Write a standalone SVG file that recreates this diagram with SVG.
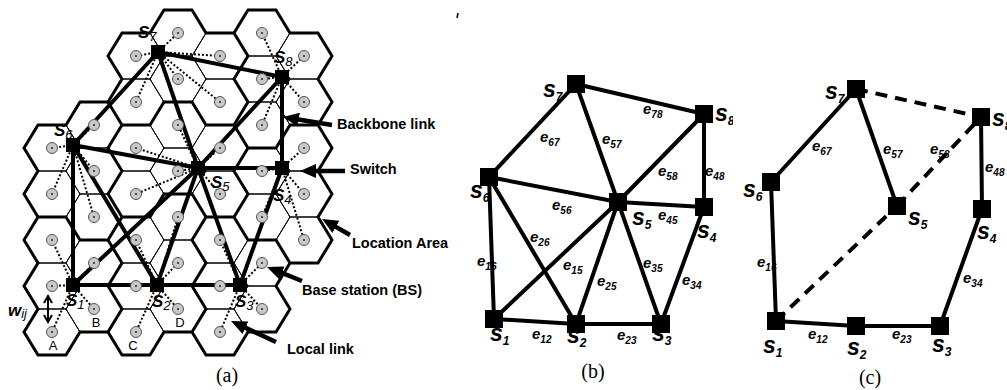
<svg xmlns="http://www.w3.org/2000/svg" width="1007" height="390" viewBox="0 0 1007 390">
  <defs>
    <style>
      .hex { fill: none; stroke: #000; stroke-width: 1; }
      .la { fill: none; stroke: #000; stroke-width: 3; stroke-linecap: round; }
      .local { fill: none; stroke: #000; stroke-width: 2; stroke-dasharray: 2 2; }
      .bb { stroke: #000; stroke-width: 4; stroke-linecap: round; }
      .sw { fill: #000; }
      .edge { stroke: #000; stroke-width: 4; stroke-linecap: round; }
      .dash { stroke: #000; stroke-width: 4; stroke-dasharray: 12 8; }
      .node { fill: #000; }
      .bs { fill: #c8c8c8; stroke: #555; stroke-width: 1; }
      .bsc { fill: #222; }
      .callout { stroke: #000; stroke-width: 4.5; fill: none; }
      .sa { font-family: "Liberation Sans", Arial, sans-serif; font-size: 17px; font-weight: bold; font-style: italic; }
      .sa-sub { font-size: 13px; font-weight: normal; }
      .sn { font-family: "Liberation Sans", Arial, sans-serif; font-size: 23px; font-weight: bold; font-style: italic; }
      .sn-sub { font-size: 12px; }
      .e { font-family: "Liberation Sans", Arial, sans-serif; font-size: 15px; font-weight: bold; font-style: italic; }
      .e-sub { font-size: 10px; }
      .note { font-family: "Liberation Sans", Arial, sans-serif; font-size: 14.5px; font-weight: bold; }
      .cell { font-family: "Liberation Sans", Arial, sans-serif; font-size: 13px; text-anchor: middle; }
      .cap { font-family: "Liberation Serif", "Times New Roman", serif; font-size: 20px; text-anchor: middle; }
    </style>
    <polygon id="hx" points="-28,0 -14,-23 14,-23 28,0 14,23 -14,23"/>
    <g id="bsdot">
      <circle class="bs" r="5.5"/>
      <circle class="bsc" r="1"/>
    </g>
    <marker id="head" markerUnits="userSpaceOnUse" markerWidth="16" markerHeight="14" refX="2" refY="7" orient="auto">
      <path d="M0,0 L16,7 L0,14 z" fill="#000"/>
    </marker>
    <clipPath id="clipB">
      <rect x="440" y="0" width="293" height="390"/>
    </clipPath>
  </defs>

  <rect width="1007" height="390" fill="#fff"/>

  <!-- ===================== (a) cellular layout ===================== -->
  <g id="cells" class="hex">
    <use href="#hx" x="52" y="148"/><use href="#hx" x="52" y="194"/><use href="#hx" x="52" y="240"/><use href="#hx" x="52" y="286"/><use href="#hx" x="52" y="332"/>
    <use href="#hx" x="94" y="125"/><use href="#hx" x="94" y="171"/><use href="#hx" x="94" y="217"/><use href="#hx" x="94" y="263"/><use href="#hx" x="94" y="309"/>
    <use href="#hx" x="136" y="56"/><use href="#hx" x="136" y="102"/><use href="#hx" x="136" y="148"/><use href="#hx" x="136" y="194"/><use href="#hx" x="136" y="240"/><use href="#hx" x="136" y="286"/><use href="#hx" x="136" y="332"/>
    <use href="#hx" x="178" y="33"/><use href="#hx" x="178" y="79"/><use href="#hx" x="178" y="125"/><use href="#hx" x="178" y="171"/><use href="#hx" x="178" y="217"/><use href="#hx" x="178" y="263"/><use href="#hx" x="178" y="309"/>
    <use href="#hx" x="220" y="56"/><use href="#hx" x="220" y="102"/><use href="#hx" x="220" y="148"/><use href="#hx" x="220" y="194"/><use href="#hx" x="220" y="240"/><use href="#hx" x="220" y="286"/><use href="#hx" x="220" y="332"/>
    <use href="#hx" x="262" y="33"/><use href="#hx" x="262" y="79"/><use href="#hx" x="262" y="125"/><use href="#hx" x="262" y="171"/><use href="#hx" x="262" y="217"/><use href="#hx" x="262" y="263"/><use href="#hx" x="262" y="309"/>
    <use href="#hx" x="304" y="56"/><use href="#hx" x="304" y="102"/><use href="#hx" x="304" y="148"/><use href="#hx" x="304" y="194"/><use href="#hx" x="304" y="240"/>
  </g>

  <!-- location area borders -->
  <path id="location-areas" class="la" d="
    M38,125 L66,125 M24,148 L38,125 M24,148 L38,171
    M24,194 L38,171 M24,194 L38,217
    M38,217 L66,217 M66,217 L80,240 M24,240 L38,217 M24,240 L38,263
    M24,286 L38,263 M24,286 L38,309
    M38,355 L66,355 M80,332 L66,355 M24,332 L38,309 M24,332 L38,355
    M80,102 L108,102 M108,102 L122,125 M122,125 L108,148 M66,125 L80,102
    M108,148 L122,171 M122,171 L108,194
    M108,194 L122,217 M122,217 L108,240
    M80,240 L108,240 M108,240 L122,263 M122,263 L108,286
    M80,332 L108,332 M108,286 L122,309 M122,309 L108,332
    M122,33 L150,33 M108,56 L122,33 M108,56 L122,79
    M164,102 L150,125 M108,102 L122,79
    M122,125 L150,125
    M164,194 L150,217
    M122,217 L150,217
    M122,355 L150,355 M164,332 L150,355 M108,332 L122,355
    M164,10 L192,10 M150,33 L164,10 M192,10 L206,33
    M164,102 L192,102 M192,102 L206,125
    M164,194 L192,194 M192,194 L206,217 M206,217 L192,240
    M192,240 L206,263 M206,263 L192,286
    M164,332 L192,332 M192,286 L206,309 M206,309 L192,332
    M206,33 L234,33 M234,33 L248,56 M248,56 L234,79
    M234,79 L248,102 M248,102 L234,125
    M206,125 L234,125 M234,125 L248,148 M248,148 L234,171
    M234,171 L248,194 M248,194 L234,217
    M206,217 L234,217 M234,217 L248,240
    M206,355 L234,355 M248,332 L234,355 M192,332 L206,355
    M248,10 L276,10 M234,33 L248,10 M276,10 L290,33
    M290,125 L276,148
    M248,148 L276,148
    M248,240 L276,240 M276,240 L290,263 M290,263 L276,286
    M248,332 L276,332 M276,286 L290,309 M290,309 L276,332
    M290,33 L318,33 M318,33 L332,56 M332,56 L318,79
    M318,79 L332,102 M332,102 L318,125
    M290,125 L318,125 M318,125 L332,148 M332,148 L318,171
    M318,171 L332,194 M332,194 L318,217
    M290,263 L318,263 M318,217 L332,240 M332,240 L318,263"/>

  <!-- local links: switch to its base stations -->
  <g id="local-links" class="local">
    <path d="M158,52 L136,56 M158,52 L136,102 M158,52 L178,33 M158,52 L178,79 M158,52 L220,56 M158,52 L220,102"/>
    <path d="M282,77 L262,33 M282,77 L262,79 M282,77 L262,125 M282,77 L304,56 M282,77 L304,102"/>
    <path d="M73,145 L52,148 M73,145 L52,194 M73,145 L94,125 M73,145 L94,171 M73,145 L94,217"/>
    <path d="M198,168 L136,148 M198,168 L136,194 M198,168 L178,125 M198,168 L178,171 M198,168 L220,148 M198,168 L220,194"/>
    <path d="M73,285 L52,240 M73,285 L52,286 M73,285 L52,332 M73,285 L94,263 M73,285 L94,309"/>
    <path d="M157,285 L136,240 M157,285 L136,286 M157,285 L136,332 M157,285 L178,217 M157,285 L178,263 M157,285 L178,309"/>
    <path d="M240,285 L220,240 M240,285 L220,286 M240,285 L220,332 M240,285 L262,263 M240,285 L262,309"/>
    <path d="M282,168 L262,171 M282,168 L262,217 M282,168 L304,148 M282,168 L304,194 M282,168 L304,240"/>
  </g>

  <!-- backbone links between switches -->
  <g id="backbone-links" class="bb">
    <line x1="158" y1="52" x2="282" y2="77"/>
    <line x1="158" y1="52" x2="73" y2="145"/>
    <line x1="158" y1="52" x2="198" y2="168"/>
    <line x1="282" y1="77" x2="198" y2="168"/>
    <line x1="282" y1="77" x2="282" y2="168"/>
    <line x1="73" y1="145" x2="198" y2="168"/>
    <line x1="73" y1="145" x2="73" y2="285"/>
    <line x1="73" y1="145" x2="157" y2="285"/>
    <line x1="198" y1="168" x2="282" y2="168"/>
    <line x1="198" y1="168" x2="73" y2="285"/>
    <line x1="198" y1="168" x2="157" y2="285"/>
    <line x1="198" y1="168" x2="240" y2="285"/>
    <line x1="282" y1="168" x2="240" y2="285"/>
    <line x1="73" y1="285" x2="157" y2="285"/>
    <line x1="157" y1="285" x2="240" y2="285"/>
  </g>

  <!-- base stations -->
  <g id="base-stations">
    <use href="#bsdot" x="52" y="148"/><use href="#bsdot" x="52" y="194"/><use href="#bsdot" x="52" y="240"/><use href="#bsdot" x="52" y="286"/><use href="#bsdot" x="52" y="332"/>
    <use href="#bsdot" x="94" y="125"/><use href="#bsdot" x="94" y="171"/><use href="#bsdot" x="94" y="217"/><use href="#bsdot" x="94" y="263"/><use href="#bsdot" x="94" y="309"/>
    <use href="#bsdot" x="136" y="56"/><use href="#bsdot" x="136" y="102"/><use href="#bsdot" x="136" y="148"/><use href="#bsdot" x="136" y="194"/><use href="#bsdot" x="136" y="240"/><use href="#bsdot" x="136" y="286"/><use href="#bsdot" x="136" y="332"/>
    <use href="#bsdot" x="178" y="33"/><use href="#bsdot" x="178" y="79"/><use href="#bsdot" x="178" y="125"/><use href="#bsdot" x="178" y="171"/><use href="#bsdot" x="178" y="217"/><use href="#bsdot" x="178" y="263"/><use href="#bsdot" x="178" y="309"/>
    <use href="#bsdot" x="220" y="56"/><use href="#bsdot" x="220" y="102"/><use href="#bsdot" x="220" y="148"/><use href="#bsdot" x="220" y="194"/><use href="#bsdot" x="220" y="240"/><use href="#bsdot" x="220" y="286"/><use href="#bsdot" x="220" y="332"/>
    <use href="#bsdot" x="262" y="33"/><use href="#bsdot" x="262" y="79"/><use href="#bsdot" x="262" y="125"/><use href="#bsdot" x="262" y="171"/><use href="#bsdot" x="262" y="217"/><use href="#bsdot" x="262" y="263"/><use href="#bsdot" x="262" y="309"/>
    <use href="#bsdot" x="304" y="56"/><use href="#bsdot" x="304" y="102"/><use href="#bsdot" x="304" y="148"/><use href="#bsdot" x="304" y="194"/><use href="#bsdot" x="304" y="240"/>
  </g>

  <!-- switches -->
  <g id="a-s1"><rect class="sw" x="66" y="278" width="14" height="14"/><text class="sa" x="66" y="306">S<tspan class="sa-sub" dy="3">1</tspan></text></g>
  <g id="a-s2"><rect class="sw" x="150" y="278" width="14" height="14"/><text class="sa" x="152" y="307">S<tspan class="sa-sub" dy="3">2</tspan></text></g>
  <g id="a-s3"><rect class="sw" x="233" y="278" width="14" height="14"/><text class="sa" x="235" y="307">S<tspan class="sa-sub" dy="3">3</tspan></text></g>
  <g id="a-s4"><rect class="sw" x="275" y="161" width="14" height="14"/><text class="sa" x="273" y="201">S<tspan class="sa-sub" dy="3">4</tspan></text></g>
  <g id="a-s5"><rect class="sw" x="191" y="161" width="14" height="14"/><text class="sa" x="211" y="188">S<tspan class="sa-sub" dy="3">5</tspan></text></g>
  <g id="a-s6"><rect class="sw" x="66" y="138" width="14" height="14"/><text class="sa" x="54" y="136">S<tspan class="sa-sub" dy="3">6</tspan></text></g>
  <g id="a-s7"><rect class="sw" x="151" y="45" width="14" height="14"/><text class="sa" x="138" y="38">S<tspan class="sa-sub" dy="3">7</tspan></text></g>
  <g id="a-s8"><rect class="sw" x="275" y="70" width="14" height="14"/><text class="sa" x="274" y="63">S<tspan class="sa-sub" dy="3">8</tspan></text></g>

  <!-- cell names and cell spacing -->
  <g id="cell-names">
    <text class="cell" x="53" y="350">A</text>
    <text class="cell" x="96" y="327">B</text>
    <text class="cell" x="133" y="350">C</text>
    <text class="cell" x="180" y="327">D</text>
  </g>
  <g id="spacing">
    <path d="M48,297 L48,321 M44,303 L48,296 L52,303 M44,315 L48,322 L52,315" stroke="#000" stroke-width="2" fill="none"/>
    <text class="sa" x="8" y="316" font-size="19">w<tspan class="sa-sub" font-weight="bold" font-size="11" dy="2">ij</tspan></text>
  </g>

  <!-- callouts -->
  <g id="callouts">
    <line class="callout" x1="332" y1="125" x2="296.8" y2="119.3" marker-end="url(#head)"/>
    <text class="note" x="337" y="129">Backbone link</text>
    <line class="callout" x1="345" y1="171" x2="314" y2="171" marker-end="url(#head)"/>
    <text class="note" x="350" y="174">Switch</text>
    <line class="callout" x1="350" y1="235" x2="334.2" y2="225.9" marker-end="url(#head)"/>
    <text class="note" x="352" y="248">Location Area</text>
    <line class="callout" x1="302" y1="281" x2="280" y2="272.2" marker-end="url(#head)"/>
    <text class="note" x="302" y="295">Base station (BS)</text>
    <line class="callout" x1="276" y1="342" x2="243.7" y2="326.9" marker-end="url(#head)"/>
    <text class="note" x="287" y="354">Local link</text>
  </g>
  <text class="cap" x="227" y="382">(a)</text>

  <path d="M458,13 L457,18" stroke="#000" stroke-width="1.5"/>

  <!-- ===================== (b) switch graph ===================== -->
  <g clip-path="url(#clipB)">
    <g id="b-edge-labels">
      <text class="e" x="540" y="142">e<tspan class="e-sub" dy="4">67</tspan></text>
      <text class="e" x="602" y="144">e<tspan class="e-sub" dy="4">57</tspan></text>
      <text class="e" x="643" y="114">e<tspan class="e-sub" dy="4">78</tspan></text>
      <text class="e" x="658" y="176">e<tspan class="e-sub" dy="4">58</tspan></text>
      <text class="e" x="705" y="176">e<tspan class="e-sub" dy="4">48</tspan></text>
      <text class="e" x="552" y="210">e<tspan class="e-sub" dy="4">56</tspan></text>
      <text class="e" x="658" y="220">e<tspan class="e-sub" dy="4">45</tspan></text>
      <text class="e" x="530" y="242">e<tspan class="e-sub" dy="4">26</tspan></text>
      <text class="e" x="477" y="266">e<tspan class="e-sub" dy="4">16</tspan></text>
      <text class="e" x="563" y="270">e<tspan class="e-sub" dy="4">15</tspan></text>
      <text class="e" x="597" y="286">e<tspan class="e-sub" dy="4">25</tspan></text>
      <text class="e" x="643" y="268">e<tspan class="e-sub" dy="4">35</tspan></text>
      <text class="e" x="682" y="285">e<tspan class="e-sub" dy="4">34</tspan></text>
      <text class="e" x="532" y="339">e<tspan class="e-sub" dy="4">12</tspan></text>
      <text class="e" x="617" y="340">e<tspan class="e-sub" dy="4">23</tspan></text>
    </g>
    <g id="b-links" class="edge">
      <line x1="576" y1="84" x2="704" y2="114"/>
      <line x1="576" y1="84" x2="489" y2="177"/>
      <line x1="576" y1="84" x2="618" y2="202"/>
      <line x1="704" y1="114" x2="618" y2="202"/>
      <line x1="704" y1="114" x2="704" y2="207"/>
      <line x1="489" y1="177" x2="618" y2="202"/>
      <line x1="489" y1="177" x2="494" y2="319"/>
      <line x1="489" y1="177" x2="576" y2="324"/>
      <line x1="618" y1="202" x2="704" y2="207"/>
      <line x1="618" y1="202" x2="494" y2="319"/>
      <line x1="618" y1="202" x2="576" y2="324"/>
      <line x1="618" y1="202" x2="661" y2="324"/>
      <line x1="704" y1="207" x2="661" y2="324"/>
      <line x1="494" y1="319" x2="576" y2="324"/>
      <line x1="576" y1="324" x2="661" y2="324"/>
    </g>
    <g id="b-s1"><rect class="node" x="485" y="310" width="18" height="18"/><text class="sn" x="490" y="341">s<tspan class="sn-sub" dy="4">1</tspan></text></g>
    <g id="b-s2"><rect class="node" x="567" y="315" width="18" height="18"/><text class="sn" x="567" y="343">s<tspan class="sn-sub" dy="4">2</tspan></text></g>
    <g id="b-s3"><rect class="node" x="652" y="315" width="18" height="18"/><text class="sn" x="652" y="341">s<tspan class="sn-sub" dy="4">3</tspan></text></g>
    <g id="b-s4"><rect class="node" x="695" y="198" width="18" height="18"/><text class="sn" x="697" y="238">s<tspan class="sn-sub" dy="4">4</tspan></text></g>
    <g id="b-s5"><rect class="node" x="609" y="193" width="18" height="18"/><text class="sn" x="632" y="225">s<tspan class="sn-sub" dy="4">5</tspan></text></g>
    <g id="b-s6"><rect class="node" x="480" y="168" width="18" height="18"/><text class="sn" x="470" y="198">s<tspan class="sn-sub" dy="4">6</tspan></text></g>
    <g id="b-s7"><rect class="node" x="567" y="75" width="18" height="18"/><text class="sn" x="543" y="97">s<tspan class="sn-sub" dy="4">7</tspan></text></g>
    <g id="b-s8"><rect class="node" x="695" y="105" width="18" height="18"/><text class="sn" x="715" y="121">s<tspan class="sn-sub" dy="4">8</tspan></text></g>
  </g>
  <text class="cap" x="593" y="378">(b)</text>

  <!-- ===================== (c) reduced graph ===================== -->
  <g id="c-edge-labels">
    <text class="e" x="812" y="151">e<tspan class="e-sub" dy="4">67</tspan></text>
    <text class="e" x="883" y="154">e<tspan class="e-sub" dy="4">57</tspan></text>
    <text class="e" x="930" y="154">e<tspan class="e-sub" dy="4">58</tspan></text>
    <text class="e" x="985" y="172">e<tspan class="e-sub" dy="4">48</tspan></text>
    <text class="e" x="757" y="267">e<tspan class="e-sub" dy="4">16</tspan></text>
    <text class="e" x="963" y="283">e<tspan class="e-sub" dy="4">34</tspan></text>
    <text class="e" x="808" y="339">e<tspan class="e-sub" dy="4">12</tspan></text>
    <text class="e" x="892" y="339">e<tspan class="e-sub" dy="4">23</tspan></text>
  </g>
  <g id="c-links">
    <g class="edge">
      <line x1="856" y1="89" x2="771" y2="182"/>
      <line x1="856" y1="89" x2="897" y2="206"/>
      <line x1="981" y1="117" x2="982" y2="209"/>
      <line x1="771" y1="182" x2="776" y2="321"/>
      <line x1="776" y1="321" x2="856" y2="326"/>
      <line x1="856" y1="326" x2="940" y2="326"/>
      <line x1="940" y1="326" x2="982" y2="209"/>
    </g>
    <g class="dash">
      <line x1="856" y1="89" x2="981" y2="117"/>
      <line x1="776" y1="321" x2="897" y2="206"/>
      <line x1="897" y1="206" x2="981" y2="117"/>
    </g>
  </g>
  <g id="c-s1"><rect class="node" x="767" y="312" width="18" height="18"/><text class="sn" x="763" y="353">s<tspan class="sn-sub" dy="4">1</tspan></text></g>
  <g id="c-s2"><rect class="node" x="847" y="317" width="18" height="18"/><text class="sn" x="847" y="355">s<tspan class="sn-sub" dy="4">2</tspan></text></g>
  <g id="c-s3"><rect class="node" x="931" y="317" width="18" height="18"/><text class="sn" x="932" y="352">s<tspan class="sn-sub" dy="4">3</tspan></text></g>
  <g id="c-s4"><rect class="node" x="973" y="200" width="18" height="18"/><text class="sn" x="977" y="239">s<tspan class="sn-sub" dy="4">4</tspan></text></g>
  <g id="c-s5"><rect class="node" x="888" y="197" width="18" height="18"/><text class="sn" x="908" y="225">s<tspan class="sn-sub" dy="4">5</tspan></text></g>
  <g id="c-s6"><rect class="node" x="762" y="173" width="18" height="18"/><text class="sn" x="743" y="197">s<tspan class="sn-sub" dy="4">6</tspan></text></g>
  <g id="c-s7"><rect class="node" x="847" y="80" width="18" height="18"/><text class="sn" x="825" y="99">s<tspan class="sn-sub" dy="4">7</tspan></text></g>
  <g id="c-s8"><rect class="node" x="972" y="108" width="18" height="18"/><text class="sn" x="992" y="126">s<tspan class="sn-sub" dy="4">8</tspan></text></g>
  <text class="cap" x="870" y="384">(c)</text>
</svg>
